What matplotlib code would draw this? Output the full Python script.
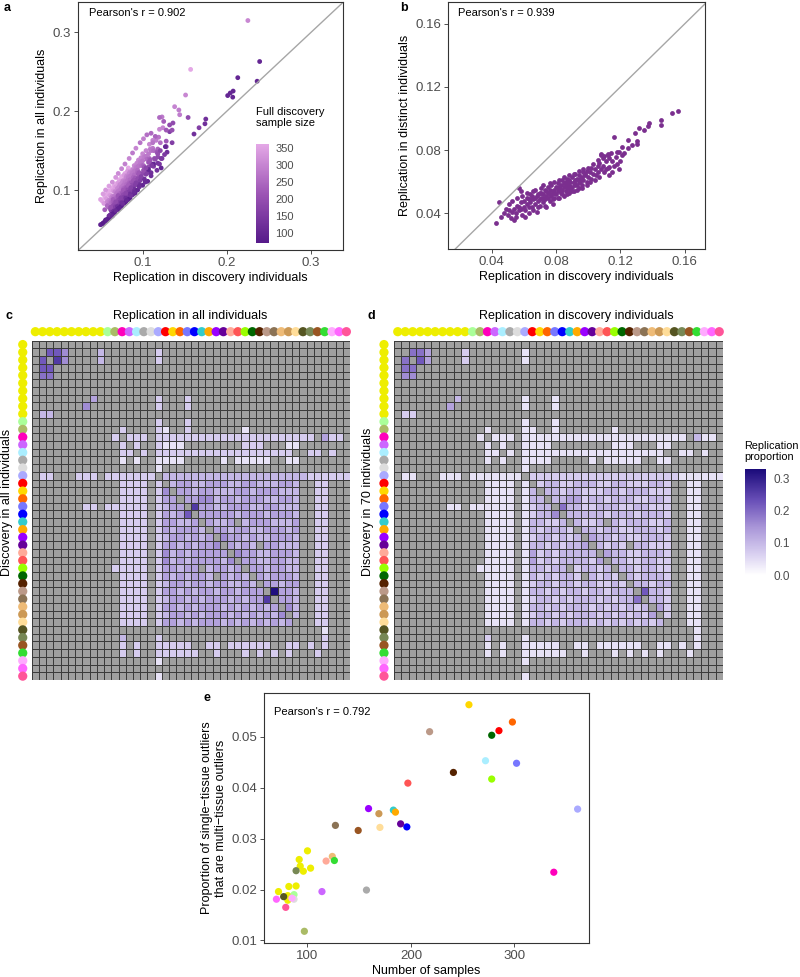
import numpy as np
import matplotlib
matplotlib.use("Agg")
import matplotlib.pyplot as plt
from matplotlib.colors import LinearSegmentedColormap, Normalize
from matplotlib.cm import ScalarMappable

plt.rcParams['font.family'] = ['Liberation Sans', 'DejaVu Sans']

W, H = 800, 977

# ---- tissues (same order in heatmaps and panel e) ----
tissue_colors = ['#EEEE00'] * 10 + [
    '#AAFF99', '#AABB66', '#FF00BB', '#CC66FF', '#AAEEFF', '#AAAAAA', '#DDDDDD',
    '#AAAAFF', '#FF0000', '#FFD700', '#FF6600', '#7777FF', '#0000FF', '#33CCCC',
    '#FFAA00', '#9900FF', '#660099', '#FFAA99', '#FF5555', '#99FF00', '#006600',
    '#552200', '#BB9988', '#8B7355', '#EEBB77', '#CC9955', '#FFDD99', '#555522',
    '#778855', '#995522', '#33DD33', '#FFAAFF', '#FF66FF', '#FF5599']

# panel e: number of samples / proportion multi-tissue
n_samples = [72, 100, 89, 103, 96, 92, 81, 81, 93, 82,
             87, 97, 338, 114, 272, 157, 87, 361, 285, 256, 298, 302, 196, 183,
             185, 159, 190, 118, 197, 278, 278, 241, 218, 127, 124, 169, 170, 77,
             89, 149, 126, 85, 70, 79]
multi_prop = [0.0196, 0.0276, 0.0207, 0.0242, 0.0236, 0.0259, 0.0188, 0.0179, 0.0246, 0.0206,
              0.0190, 0.0118, 0.0234, 0.0196, 0.0453, 0.0199, 0.0181, 0.0358, 0.0512, 0.0563,
              0.0529, 0.0448, 0.0323, 0.0356, 0.0352, 0.0359, 0.0329, 0.0256, 0.0409, 0.0417,
              0.0503, 0.0430, 0.0510, 0.0326, 0.0265, 0.0349, 0.0322, 0.0186, 0.0237, 0.0316,
              0.0257, 0.0183, 0.0181, 0.0165]

# ---- panel a ----
a_disc = [
    0.052, 0.055, 0.058, 0.060, 0.062, 0.064, 0.066, 0.069, 0.072, 0.075, 0.079, 0.083, 0.157,
    0.054, 0.057, 0.061, 0.065, 0.068, 0.071, 0.074, 0.078, 0.082,
    0.058, 0.063, 0.067, 0.070, 0.073, 0.077, 0.081, 0.085, 0.090, 0.095, 0.100, 0.108, 0.120, 0.151, 0.225,
    0.060, 0.064, 0.068, 0.072, 0.076, 0.080, 0.084, 0.088, 0.093, 0.098, 0.104, 0.112, 0.124, 0.138,
    0.061, 0.066, 0.071, 0.075, 0.079, 0.083, 0.087, 0.092, 0.097, 0.102, 0.109, 0.116, 0.143, 0.144,
    0.059, 0.063, 0.067, 0.071, 0.075, 0.079, 0.083, 0.088, 0.093, 0.098, 0.104, 0.112, 0.123,
    0.062, 0.069, 0.077, 0.085, 0.090, 0.096, 0.107,
    0.065, 0.070, 0.074, 0.078, 0.082, 0.086, 0.091, 0.095, 0.100, 0.110, 0.119,
    0.063, 0.068, 0.072, 0.077, 0.081, 0.085, 0.090, 0.094, 0.099, 0.105, 0.113, 0.121,
    0.060, 0.065, 0.070, 0.074, 0.079, 0.084, 0.089, 0.094, 0.101, 0.108, 0.118,
    0.066, 0.071, 0.076, 0.081, 0.086, 0.091, 0.096, 0.102, 0.109, 0.117, 0.128,
    0.062, 0.067, 0.072, 0.077, 0.082, 0.087, 0.092, 0.097, 0.103, 0.110, 0.118, 0.128,
    0.065, 0.070, 0.075, 0.080, 0.085, 0.090, 0.095, 0.100, 0.107, 0.115, 0.132, 0.136, 0.154,
    0.063, 0.068, 0.073, 0.078, 0.083, 0.088, 0.093, 0.099, 0.106, 0.113, 0.122, 0.135,
    0.066, 0.071, 0.076, 0.081, 0.086, 0.091, 0.097, 0.104, 0.132, 0.167,
    0.060, 0.065, 0.070, 0.075, 0.080, 0.085, 0.090, 0.096, 0.102, 0.110, 0.129, 0.161, 0.175, 0.174,
    0.055, 0.058, 0.062, 0.066, 0.070, 0.074, 0.078, 0.083, 0.088, 0.094, 0.100, 0.106, 0.113, 0.107,
    0.127, 0.213, 0.239, 0.236, 0.2075, 0.201, 0.207, 0.204,
    0.052, 0.056, 0.060, 0.063, 0.067, 0.071, 0.075, 0.080, 0.085, 0.091,
    # extra points, upper (light) edge
    0.050, 0.053, 0.056, 0.060, 0.064, 0.068, 0.071, 0.075, 0.079, 0.084, 0.088, 0.092,
    0.097, 0.101, 0.105, 0.110, 0.115, 0.120, 0.112, 0.125, 0.128, 0.135,
    # middle of the cloud
    0.055, 0.058, 0.062, 0.065, 0.068, 0.071, 0.074, 0.077, 0.080, 0.083, 0.086, 0.089,
    0.092, 0.095, 0.098, 0.101, 0.104, 0.107, 0.111, 0.114, 0.118, 0.121, 0.120, 0.126,
    # near the diagonal (dark)
    0.050, 0.053, 0.057, 0.061, 0.064, 0.068, 0.072, 0.076, 0.081, 0.086, 0.090, 0.096,
    0.103, 0.110, 0.117, 0.122, 0.118, 0.123]
a_all = [
    0.086, 0.091, 0.095, 0.099, 0.094, 0.102, 0.105, 0.108, 0.113, 0.117, 0.121, 0.128, 0.253,
    0.083, 0.089, 0.093, 0.099, 0.104, 0.109, 0.111, 0.119, 0.124,
    0.085, 0.091, 0.098, 0.102, 0.107, 0.112, 0.118, 0.123, 0.131, 0.138, 0.146, 0.158, 0.177, 0.2205, 0.315,
    0.087, 0.092, 0.097, 0.104, 0.110, 0.115, 0.121, 0.126, 0.134, 0.141, 0.150, 0.163, 0.179, 0.2057,
    0.085, 0.092, 0.099, 0.104, 0.111, 0.117, 0.122, 0.129, 0.136, 0.142, 0.152, 0.163, 0.2015, 0.1955,
    0.081, 0.087, 0.092, 0.098, 0.103, 0.109, 0.115, 0.121, 0.128, 0.134, 0.143, 0.153, 0.1927,
    0.084, 0.096, 0.106, 0.117, 0.124, 0.131, 0.146,
    0.090, 0.096, 0.101, 0.106, 0.112, 0.118, 0.124, 0.130, 0.137, 0.150, 0.167,
    0.084, 0.090, 0.095, 0.102, 0.107, 0.113, 0.119, 0.125, 0.131, 0.139, 0.150, 0.160,
    0.078, 0.085, 0.091, 0.096, 0.103, 0.109, 0.116, 0.122, 0.131, 0.140, 0.152,
    0.084, 0.090, 0.096, 0.103, 0.109, 0.115, 0.122, 0.129, 0.138, 0.148, 0.162,
    0.075, 0.081, 0.088, 0.094, 0.100, 0.106, 0.112, 0.118, 0.125, 0.133, 0.142, 0.155,
    0.080, 0.085, 0.091, 0.097, 0.104, 0.110, 0.116, 0.121, 0.129, 0.139, 0.1825, 0.185, 0.192,
    0.073, 0.079, 0.085, 0.091, 0.097, 0.102, 0.108, 0.115, 0.122, 0.130, 0.140, 0.160,
    0.077, 0.083, 0.088, 0.094, 0.100, 0.106, 0.112, 0.120, 0.174, 0.179,
    0.067, 0.073, 0.079, 0.084, 0.090, 0.095, 0.101, 0.107, 0.114, 0.122, 0.148, 0.171, 0.190, 0.184,
    0.060, 0.063, 0.066, 0.071, 0.075, 0.079, 0.083, 0.088, 0.094, 0.100, 0.106, 0.111, 0.133, 0.126,
    0.155, 0.2425, 0.263, 0.238, 0.2255, 0.2198, 0.2178, 0.223,
    0.057, 0.062, 0.064, 0.069, 0.072, 0.076, 0.080, 0.085, 0.090, 0.096,
    0.088, 0.095, 0.100, 0.105, 0.110, 0.116, 0.121, 0.127, 0.133, 0.140, 0.147, 0.153,
    0.160, 0.165, 0.170, 0.172, 0.168, 0.192, 0.160, 0.187, 0.176, 0.176,
    0.075, 0.080, 0.078, 0.088, 0.085, 0.093, 0.090, 0.100, 0.096, 0.106, 0.103, 0.112,
    0.109, 0.120, 0.117, 0.125, 0.128, 0.135, 0.131, 0.140, 0.146, 0.150, 0.133, 0.145,
    0.056, 0.058, 0.061, 0.068, 0.067, 0.074, 0.077, 0.083, 0.087, 0.093, 0.097, 0.104,
    0.110, 0.118, 0.125, 0.128, 0.134, 0.140]
a_n = ([361] * 13 + [338] * 9 + [302] * 15 + [298] * 14 + [285] * 14 + [278] * 20 +
       [272] * 11 + [256] * 12 + [241] * 11 + [218] * 11 + [190] * 25 + [160] * 22 +
       [124] * 14 + [100] * 22 + [80] * 10 +
       [350, 340, 330, 345, 320, 330, 310, 300, 290, 300, 280, 300,
        270, 290, 260, 250, 240, 250, 270, 230, 220, 200,
        230, 250, 200, 230, 190, 210, 170, 220, 180, 230, 170, 210,
        160, 220, 170, 200, 180, 210, 150, 190, 200, 180, 140, 150,
        90, 75, 85, 120, 95, 110, 90, 120, 100, 130, 110, 120,
        110, 120, 130, 100, 140, 150])

# ---- panel b ----
b_disc = [0.043, 0.046, 0.0446, 0.048, 0.050, 0.051, 0.052, 0.053, 0.0537, 0.054, 0.055, 0.056,
          0.0568, 0.057, 0.0582, 0.058, 0.059, 0.060, 0.060, 0.061, 0.062, 0.062, 0.063, 0.064,
          0.064, 0.065, 0.066, 0.066, 0.067, 0.068, 0.068, 0.069, 0.070, 0.070, 0.071, 0.071,
          0.072, 0.072, 0.073, 0.073, 0.074, 0.074, 0.075, 0.075, 0.076, 0.076, 0.077, 0.077,
          0.078, 0.078, 0.079, 0.079, 0.080, 0.080, 0.081, 0.081, 0.082, 0.082, 0.083, 0.083,
          0.084, 0.084, 0.085, 0.085, 0.086, 0.086, 0.087, 0.087, 0.088, 0.088, 0.089, 0.089,
          0.090, 0.090, 0.091, 0.091, 0.092, 0.092, 0.093, 0.093, 0.094, 0.094, 0.095, 0.096,
          0.096, 0.097, 0.097, 0.098, 0.099, 0.099, 0.100, 0.101, 0.102, 0.102, 0.103, 0.104,
          0.105, 0.106, 0.106, 0.107, 0.108, 0.108, 0.109, 0.110, 0.110, 0.111, 0.112, 0.112,
          0.113, 0.113, 0.115, 0.116, 0.1172, 0.1176, 0.118, 0.119, 0.1207, 0.121, 0.1248, 0.125,
          0.127, 0.1292, 0.130, 0.130, 0.1316, 0.1347, 0.1372, 0.1378, 0.1454, 0.1454, 0.1522, 0.1557,
          0.065, 0.069, 0.072, 0.074, 0.076, 0.079, 0.081, 0.083, 0.085, 0.087, 0.089, 0.092,
          0.094, 0.057, 0.063, 0.067, 0.071, 0.078, 0.082, 0.086, 0.088, 0.091, 0.095, 0.098,
          0.049, 0.051, 0.053, 0.055, 0.056, 0.058, 0.059, 0.061, 0.062, 0.063, 0.065, 0.066,
          0.067, 0.069, 0.070, 0.072, 0.073, 0.075, 0.076, 0.078, 0.079, 0.081, 0.082, 0.084,
          0.085, 0.087, 0.088, 0.090, 0.091, 0.093, 0.094, 0.096, 0.097, 0.099, 0.100, 0.101,
          0.103, 0.104, 0.106, 0.107, 0.109, 0.111, 0.114, 0.116, 0.112, 0.108, 0.113, 0.120,
          0.122, 0.115, 0.119]
b_dist = [0.034, 0.038, 0.0471, 0.040, 0.039, 0.042, 0.037, 0.041, 0.0356, 0.043, 0.040, 0.045,
          0.0560, 0.042, 0.0539, 0.047, 0.039, 0.044, 0.048, 0.042, 0.050, 0.046, 0.040, 0.047,
          0.052, 0.044, 0.049, 0.054, 0.046, 0.051, 0.041, 0.048, 0.053, 0.045, 0.050, 0.056,
          0.047, 0.052, 0.049, 0.055, 0.051, 0.044, 0.053, 0.057, 0.048, 0.055, 0.051, 0.058,
          0.053, 0.046, 0.055, 0.050, 0.057, 0.052, 0.054, 0.059, 0.050, 0.056, 0.053, 0.058,
          0.055, 0.061, 0.051, 0.057, 0.054, 0.060, 0.056, 0.062, 0.053, 0.058, 0.060, 0.055,
          0.057, 0.063, 0.059, 0.054, 0.061, 0.065, 0.058, 0.062, 0.056, 0.064, 0.060, 0.063,
          0.058, 0.061, 0.066, 0.064, 0.060, 0.067, 0.063, 0.066, 0.062, 0.069, 0.065, 0.068,
          0.064, 0.070, 0.066, 0.072, 0.068, 0.077, 0.070, 0.076, 0.066, 0.073, 0.069, 0.077,
          0.075, 0.064, 0.073, 0.0886, 0.0759, 0.0791, 0.071, 0.079, 0.0822, 0.077, 0.0864, 0.0814,
          0.083, 0.0906, 0.0856, 0.0839, 0.0938, 0.0927, 0.0953, 0.097, 0.099, 0.0959, 0.1033, 0.1047,
          0.051, 0.052, 0.050, 0.054, 0.052, 0.053, 0.056, 0.055, 0.059, 0.058, 0.057, 0.058,
          0.060, 0.044, 0.049, 0.050, 0.053, 0.054, 0.057, 0.059, 0.061, 0.060, 0.062, 0.065,
          0.043, 0.046, 0.048, 0.038, 0.050, 0.043, 0.051, 0.038, 0.053, 0.044, 0.050, 0.042,
          0.055, 0.044, 0.049, 0.058, 0.045, 0.050, 0.059, 0.049, 0.060, 0.050, 0.061, 0.052,
          0.063, 0.052, 0.064, 0.054, 0.065, 0.055, 0.067, 0.056, 0.068, 0.058, 0.069, 0.060,
          0.071, 0.061, 0.074, 0.063, 0.075, 0.068, 0.078, 0.070, 0.0775, 0.0776, 0.0695, 0.073,
          0.078, 0.066, 0.068]

# ---- heatmaps (c: all individuals, d: discovery individuals) ----
# '.' = no value (grey), digits = replication proportion level
level_value = {'1': 0.04, '2': 0.07, '3': 0.10, '4': 0.13, '5': 0.16,
               '6': 0.19, '7': 0.22, '8': 0.26, '9': 0.32}

c_rows = [
    "............................................",
    "..775....3.......2..........................",
    ".7.85....3.......2..........................",
    ".77.........................................",
    ".66.........................................",
    "............................................",
    "............................................",
    "........4........2...2......................",
    ".......5.........2...2......................",
    ".33.........................................",
    ".................2...2......................",
    "............2....21..2.......1..............",
    "...........2.222.2222222222222222222222.422.",
    "............2.2..2111........222...11.......",
    "............22.2.2222222222222222222..22.2..",
    "............1.1..1111.....1.11111..11.......",
    ".................1..........................",
    ".22...222.2222222.33333333333333333333222222",
    "............2222.2.344334443344333443..22...",
    "............2222.25.44344333443444333..22...",
    "............2222.244.4455344344433443..22...",
    ".......22.222222.2344.844334443344333..22...",
    "............2222.24347.44444344434443..22...",
    "............2222.244334.4334.34443334..22...",
    "............2222.2434443.443443344434..22...",
    "............2222.23443434.54434334443..22...",
    "............2222.244343445.4343.44333..22...",
    "............2222.2534344444.544334443..22...",
    "............2222.25343444435.44334433..22...",
    "...........22222.244344.34434.4434433..22...",
    "............2222.24343443.4343.434443..22...",
    "............2222.23443443443343.44344..22...",
    "............2222.244343443443444.9443..22...",
    "............2222.2344343444343448.443..22...",
    "............2222.24434344434343434.53..22...",
    "............2222.234434344434343435.3..22...",
    "............2222.2443434443434343434...22...",
    "........................................1...",
    "............3....2......................2...",
    "............2.2..22222..22.222222..22.2.2...",
    "............2.2..222222..2...2.2.2.2...2....",
    ".................1..........................",
    "............................................",
    ".................1..........................",
]

d_rows = [
    "............................................",
    "..664....2.......1..........................",
    ".6.74....2.......1..........................",
    ".66.........................................",
    ".55.........................................",
    "............................................",
    "............................................",
    "........3........1...1......................",
    ".......4.........1...1......................",
    ".22.........................................",
    ".................1...1......................",
    "............1....11..1.......1..............",
    "...........1.111.1111111111111111111111.311.",
    "............1.1..1111........111...11.......",
    "............11.1.1111111111111111111..11.1..",
    "............1.1..1111.....1.11111..11.......",
    ".................1..........................",
    ".11...111.1111111.22222222222222222222111111",
    "............1111.1.233223332233222332..11...",
    "............1111.13.33233222332333222..11...",
    "............1111.133.3344233233322332..11...",
    ".......11.111111.1233.633223332233222..11...",
    "............1111.12335.33333233323332..11...",
    "............1111.133223.3223.32333223..11...",
    "............1111.1323332.332332233323..11...",
    "............1111.12332323.43323223332..11...",
    "............1111.133232334.3232.33222..11...",
    "............1111.1423233333.433223332..11...",
    "............1111.14232333324.33223322..11...",
    "...........11111.133233.23323.3323322..11...",
    "............1111.13232332.3232.323332..11...",
    "............1111.12332332332232.33233..11...",
    "............1111.133232332332333.7332..11...",
    "............1111.1233232333232336.332..11...",
    "............1111.13323233323232323.42..11...",
    "............1111.123323233323232324.2..11...",
    "............1111.1332323332323232323...11...",
    "........................................1...",
    "............2....1......................1...",
    "............1.1..11111..11.111111..11.1.1...",
    "............1.1..111111..1...1.1.1.1...1....",
    ".................1..........................",
    "............................................",
    ".................1..........................",
]

a_cmap = LinearSegmentedColormap.from_list('disc', ['#561a8a', '#9d55b5', '#e4a8e6'])
heat_cmap = LinearSegmentedColormap.from_list(
    'rep', [(0, '#ffffff'), (0.2, '#d8cff0'), (0.45, '#a996d8'), (0.7, '#6a50b8'), (1, '#1a0a7a')])
heat_cmap = heat_cmap.with_extremes(bad='#a0a0a0')

TICK = '#4d4d4d'
EDGE = '#333333'


def rect(left, top, right, bottom):
    return [left / W, 1 - bottom / H, (right - left) / W, (bottom - top) / H]


def style(ax):
    for s in ax.spines.values():
        s.set_color(EDGE)
        s.set_linewidth(0.8)
    ax.tick_params(direction='out', length=3, width=0.6, color=EDGE,
                   labelsize=9.5, labelcolor=TICK, pad=2)


def to_matrix(rows):
    m = np.full((44, 44), np.nan)
    for i, row in enumerate(rows):
        assert len(row) == 44, (i, len(row))
        for j, ch in enumerate(row):
            if ch != '.':
                m[i, j] = level_value[ch]
    return m


fig = plt.figure(figsize=(W / 100, H / 100), dpi=100)

# ---- a ----
ax = fig.add_axes(rect(78, 2, 343, 250))
ax.plot([0, 0.4], [0, 0.4], color='#a6a6a6', lw=1)
sc = ax.scatter(a_disc, a_all, c=a_n, cmap=a_cmap, vmin=70, vmax=361, s=12, linewidths=0)
ax.set_xlim(0.0232, 0.338)
ax.set_ylim(0.0239, 0.3385)
ax.set_xticks([0.1, 0.2, 0.3])
ax.set_yticks([0.1, 0.2, 0.3])
ax.set_xticklabels(['0.1', '0.2', '0.3'])
ax.set_yticklabels(['0.1', '0.2', '0.3'])
style(ax)
ax.set_xlabel('Replication in discovery individuals', fontsize=9, labelpad=2)
ax.set_ylabel('Replication in all individuals', fontsize=9, labelpad=3)
ax.text(0.04, 0.955, "Pearson's r = 0.902", transform=ax.transAxes, fontsize=8, va='center')
cax = fig.add_axes(rect(256, 144, 269, 243))
cb = fig.colorbar(sc, cax=cax)
cb.outline.set_visible(False)
cb.set_ticks([100, 150, 200, 250, 300, 350])
cax.tick_params(length=2.5, color='white', labelsize=8, labelcolor=TICK, pad=2)
fig.text(256 / W, 1 - 107 / H, 'Full discovery\nsample size', fontsize=8, va='top',
         linespacing=1.1)

# ---- b ----
ax = fig.add_axes(rect(448, 2, 705, 249))
ax.plot([0, 0.2], [0, 0.2], color='#a6a6a6', lw=1)
ax.scatter(b_disc, b_dist, color='#7b2f8f', s=12, linewidths=0)
ax.set_xlim(0.013, 0.1725)
ax.set_ylim(0.0175, 0.1737)
ticks = [0.04, 0.08, 0.12, 0.16]
ax.set_xticks(ticks)
ax.set_yticks(ticks)
ax.set_xticklabels(['0.04', '0.08', '0.12', '0.16'])
ax.set_yticklabels(['0.04', '0.08', '0.12', '0.16'])
style(ax)
ax.set_xlabel('Replication in discovery individuals', fontsize=9, labelpad=2)
ax.set_ylabel('Replication in distinct individuals', fontsize=9, labelpad=3)
ax.text(0.04, 0.955, "Pearson's r = 0.939", transform=ax.transAxes, fontsize=8, va='center')


# ---- c, d heatmaps ----
def heatmap(r, rows, left_dot):
    ax = fig.add_axes(r)
    ax.set_facecolor('#a0a0a0')
    ax.pcolormesh(np.arange(45), np.arange(45), np.ma.masked_invalid(to_matrix(rows)),
                  cmap=heat_cmap, vmin=0, vmax=0.328, edgecolors='#3c3c3c', linewidth=0.45)
    ax.set_xlim(0, 44)
    ax.set_ylim(44, 0)
    ax.set_xticks([])
    ax.set_yticks([])
    for s in ax.spines.values():
        s.set_visible(False)
    pos = np.arange(44) + 0.5
    ax.scatter(pos, np.full(44, -1.17), c=tissue_colors, s=44, linewidths=0, clip_on=False)
    ax.scatter(np.full(44, left_dot), pos, c=tissue_colors, s=44, linewidths=0, clip_on=False)
    return ax


heatmap(rect(31.7, 340.7, 350, 680), c_rows, -1.24)
heatmap(rect(394, 340.7, 723, 680), d_rows, -1.34)
fig.text(190 / W, 1 - 316 / H, 'Replication in all individuals', fontsize=9, ha='center', va='center')
fig.text(576 / W, 1 - 316 / H, 'Replication in discovery individuals', fontsize=9, ha='center', va='center')
fig.text(7 / W, 1 - 502 / H, 'Discovery in all individuals', fontsize=9, rotation=90,
         ha='center', va='center')
fig.text(368 / W, 1 - 502 / H, 'Discovery in 70 individuals', fontsize=9, rotation=90,
         ha='center', va='center')

cax = fig.add_axes(rect(745, 469, 766, 575))
cb = fig.colorbar(ScalarMappable(Normalize(0, 0.328), heat_cmap), cax=cax)
cb.outline.set_visible(False)
cb.set_ticks([0, 0.1, 0.2, 0.3])
cb.set_ticklabels(['0.0', '0.1', '0.2', '0.3'])
cax.tick_params(length=2.5, color='white', labelsize=8.5, labelcolor=TICK, pad=3)
fig.text(744 / W, 1 - 441 / H, 'Replication\nproportion', fontsize=7.8, va='top', linespacing=1.1)

# ---- e ----
ax = fig.add_axes(rect(264, 693, 589, 943))
ax.scatter(n_samples, multi_prop, c=tissue_colors, s=27, linewidths=0)
ax.set_xlim(58, 372)
ax.set_ylim(0.0095, 0.0586)
ax.set_xticks([100, 200, 300])
ax.set_yticks([0.01, 0.02, 0.03, 0.04, 0.05])
ax.set_yticklabels(['0.01', '0.02', '0.03', '0.04', '0.05'])
style(ax)
ax.set_xlabel('Number of samples', fontsize=9, labelpad=2)
ax.set_ylabel('Proportion of single\u2212tissue outliers\nthat are multi\u2212tissue outliers',
              fontsize=9, labelpad=3, linespacing=1.2)
ax.text(0.03, 0.925, "Pearson's r = 0.792", transform=ax.transAxes, fontsize=8, va='center')

# panel letters
for letter, x, y in [('a', 4, 8), ('b', 400, 8), ('c', 5, 316), ('d', 368, 316), ('e', 204, 698)]:
    fig.text(x / W, 1 - y / H, letter, fontsize=9, fontweight='bold', va='center')

fig.savefig('out.png', dpi=100)
